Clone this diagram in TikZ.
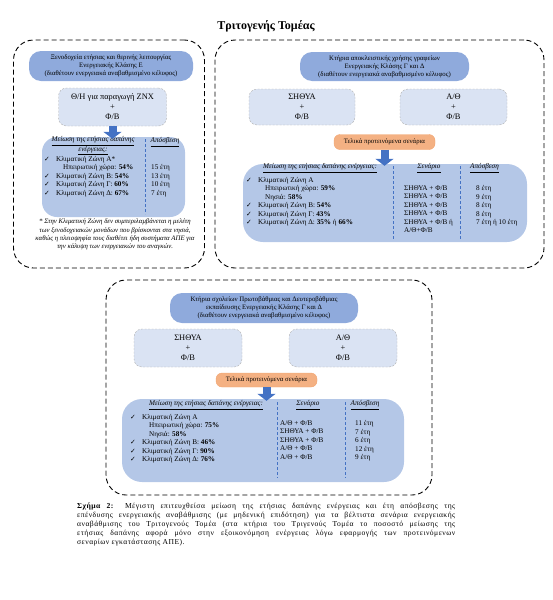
\documentclass[tikz,border=0pt]{standalone}
\usepackage{fontspec}
\setmainfont{Liberation Serif}
\newfontfamily\symfont{DejaVu Sans}
\newfontfamily\capfont[LetterSpace=6]{Liberation Serif}
\usetikzlibrary{arrows.meta,positioning}

\definecolor{headblue}{RGB}{143,170,220}
\definecolor{optblue}{RGB}{218,227,243}
\definecolor{resblue}{RGB}{180,199,231}
\definecolor{arrowblue}{RGB}{68,114,196}
\definecolor{finalfill}{RGB}{244,177,131}
\definecolor{finalline}{RGB}{237,125,49}

\newcommand{\ck}{\makebox[12pt][l]{\symfont\fontsize{6.8}{6.8}\selectfont ✓}}
\newcommand{\ind}{\hspace*{19pt}}
\newcommand{\ulit}[1]{\underline{\textit{#1}}}

\begin{document}
\begin{tikzpicture}
    [
      x=1pt, y=-1pt,
      panel/.style={draw, dashed, dash pattern=on 5pt off 3pt, line width=0.9pt, rounded corners=20pt},
      header/.style={fill=headblue, rounded corners=12pt, align=center, font=\fontsize{6.8}{8}\selectfont},
      option/.style={fill=optblue, draw=gray!60, dashed, dash pattern=on 2pt off 1.5pt, rounded corners=8pt, align=center, font=\fontsize{8.4}{10}\selectfont},
      final/.style={fill=finalfill, draw=finalline!70, rounded corners=6pt, font=\fontsize{6.8}{8}\selectfont},
      result/.style={fill=resblue, rounded corners=20pt},
      rows/.style={anchor=north west, inner sep=0pt, align=left, font=\fontsize{7.2}{8.5}\selectfont},
      colhead/.style={inner sep=0pt, align=center, font=\fontsize{7.2}{8}\selectfont},
      divider/.style={draw=arrowblue, dashed, dash pattern=on 3pt off 2pt, line width=0.6pt},
      post/.style={-{Triangle[width=18pt,length=7pt]}, line width=8pt, arrowblue, shorten >=-2pt}
    ]
    \useasboundingbox (0,0) rectangle (552,600);

    \node (title) [font=\fontsize{12}{14}\selectfont\bfseries] at (266,26) {Τριτογενής Τομέας};

    % hotels
    \node (hotelpanel) [panel, minimum width=191pt, minimum height=228pt] at (109,154) {};
    \node (hotelhead) [header, minimum width=164pt, minimum height=30pt] at (111,66)
      {Ξενοδοχεία ετήσιας και θερινής λειτουργίας\\Ενεργειακής Κλάσης Ε\\(διαθέτουν ενεργειακά αναβαθμισμένο κέλυφος)};
    \node (hotelopt) [option, minimum width=108pt, minimum height=38pt] at (112.5,107)
      {Θ/Η για παραγωγή ΖΝΧ\\+\\Φ/Β};
    \node (hotelres) [result, rounded corners=15pt, minimum width=143pt, minimum height=80pt] at (113.5,177) {};
    \node (hotelhd) [colhead] at (93,146) {\ulit{Μείωση της ετήσιας δαπάνης}\\\ulit{ενέργειας:}};
    \node (hotelpb) [colhead] at (165,142) {\ulit{Απόσβεση}};
    \node (hotelrows) [rows] at (44,156)
      {\ck Κλιματική Ζώνη Α*\\
       \ind Ηπειρωτική χώρα: \textbf{54\%}\\
       \ck Κλιματική Ζώνη Β: \textbf{54\%}\\
       \ck Κλιματική Ζώνη Γ: \textbf{60\%}\\
       \ck Κλιματική Ζώνη Δ: \textbf{67\%}};
    \node (hotelyears) [rows] at (151,164.5) {15 έτη\\13 έτη\\10 έτη\\7 έτη};
    \draw [divider] (145,139) -- (145,214);
    \node (hotelnote) [align=center, font=\fontsize{6.8}{8.3}\selectfont\itshape] at (115,234.5)
      {* Στην Κλιματική Ζώνη δεν συμπεριλαμβάνεται η μελέτη\\
       των ξενοδοχειακών μονάδων που βρίσκονται στα νησιά,\\
       καθώς η πλειοψηφία τους διαθέτει ήδη συστήματα ΑΠΕ για\\
       την κάλυψη των ενεργειακών του αναγκών.};

    % offices
    \node (officepanel) [panel, minimum width=329pt, minimum height=228pt] at (379.5,154) {};
    \node (officehead) [header, minimum width=169pt, minimum height=29pt] at (384.5,66.5)
      {Κτήρια αποκλειστικής χρήσης γραφείων\\Ενεργειακής Κλάσης Γ και Δ\\(διαθέτουν ενεργειακά αναβαθμισμένο κέλυφος)};
    \node (officeopta) [option, minimum width=106pt, minimum height=36pt] at (302,107) {ΣΗΘΥΑ\\+\\Φ/Β};
    \node (officeoptb) [option, minimum width=107pt, minimum height=36pt] at (453.5,107) {Α/Θ\\+\\Φ/Β};
    \node (officefinal) [final, minimum width=101pt, minimum height=15pt] at (384.5,142) {Τελικά προτεινόμενα σενάρια};
    \node (officeres) [result, minimum width=284pt, minimum height=78pt] at (385,203) {};
    \node (officehd) [colhead] at (320,168) {\ulit{Μείωση της ετήσιας δαπάνης ενέργειας:}};
    \node (officesc) [colhead] at (429,168) {\ulit{Σενάριο}};
    \node (officepb) [colhead] at (484.5,168) {\ulit{Απόσβεση}};
    \node (officerows) [rows] at (246,177)
      {\ck Κλιματική Ζώνη Α\\
       \ind Ηπειρωτική χώρα: \textbf{59\%}\\
       \ind Νησιά: \textbf{58\%}\\
       \ck Κλιματική Ζώνη Β: \textbf{54\%}\\
       \ck Κλιματική Ζώνη Γ: \textbf{43\%}\\
       \ck Κλιματική Ζώνη Δ: \textbf{35\%} ή \textbf{66\%}};
    \node (officescen) [rows] at (404,185.5)
      {ΣΗΘΥΑ + Φ/Β\\ΣΗΘΥΑ + Φ/Β\\ΣΗΘΥΑ + Φ/Β\\ΣΗΘΥΑ + Φ/Β\\ΣΗΘΥΑ + Φ/Β ή\\Α/Θ+Φ/Β};
    \node (officeyears) [rows] at (476,185.5) {8 έτη\\9 έτη\\8 έτη\\8 έτη\\7 έτη ή 10 έτη};
    \draw [divider] (393,166) -- (393,240);
    \draw [divider] (460,166) -- (460,240);

    % schools
    \node (schoolpanel) [panel, minimum width=326pt, minimum height=215pt] at (269,387.5) {};
    \node (schoolhead) [header, minimum width=188pt, minimum height=30pt] at (264,308)
      {Κτήρια σχολείων Πρωτοβάθμιας και Δευτεροβάθμιας\\εκπαίδευσης Ενεργειακής Κλάσης Γ και Δ\\(διαθέτουν ενεργειακά αναβαθμισμένο κέλυφος)};
    \node (schoolopta) [option, minimum width=108pt, minimum height=38pt] at (188,348) {ΣΗΘΥΑ\\+\\Φ/Β};
    \node (schooloptb) [option, minimum width=108pt, minimum height=38pt] at (343,348) {Α/Θ\\+\\Φ/Β};
    \node (schoolfinal) [final, minimum width=101pt, minimum height=14pt] at (266.5,380) {Τελικά προτεινόμενα σενάρια};
    \node (schoolres) [result, minimum width=282pt, minimum height=83pt] at (263,440.5) {};
    \node (schoolhd) [colhead] at (206,405) {\ulit{Μείωση της ετήσιας δαπάνης ενέργειας:}};
    \node (schoolsc) [colhead] at (308,405) {\ulit{Σενάριο}};
    \node (schoolpb) [colhead] at (365,405) {\ulit{Απόσβεση}};
    \node (schoolrows) [rows] at (130,414)
      {\ck Κλιματική Ζώνη Α\\
       \ind Ηπειρωτική χώρα: \textbf{75\%}\\
       \ind Νησιά: \textbf{58\%}\\
       \ck Κλιματική Ζώνη Β: \textbf{46\%}\\
       \ck Κλιματική Ζώνη Γ: \textbf{90\%}\\
       \ck Κλιματική Ζώνη Δ: \textbf{76\%}};
    \node (schoolscen) [rows] at (280,420.5)
      {Α/Θ + Φ/Β\\ΣΗΘΥΑ + Φ/Β\\ΣΗΘΥΑ + Φ/Β\\Α/Θ + Φ/Β\\Α/Θ + Φ/Β};
    \node (schoolyears) [rows] at (355,420.5) {11 έτη\\7 έτη\\6 έτη\\12 έτη\\9 έτη};
    \draw [divider] (277,402) -- (277,478);
    \draw [divider] (345,402) -- (345,478);

    % caption
    \node (caption) [rows, font=\fontsize{7.6}{8.8}\capfont] at (77,503)
      {\makebox[378pt][s]{\textbf{Σχήμα 2:} Μέγιστη επιτευχθείσα μείωση της ετήσιας δαπάνης ενέργειας και έτη απόσβεσης της}\\
       \makebox[378pt][s]{επένδυσης ενεργειακής αναβάθμισης (με μηδενική επιδότηση) για τα βέλτιστα σενάρια ενεργειακής}\\
       \makebox[378pt][s]{αναβάθμισης του Τριτογενούς Τομέα (στα κτήρια του Τριγενούς Τομέα το ποσοστό μείωσης της}\\
       \makebox[378pt][s]{ετήσιας δαπάνης αφορά μόνο στην εξοικονόμηση ενέργειας λόγω εφαρμογής των προτεινόμενων}\\
       σεναρίων εγκατάστασης ΑΠΕ).};

    \path
    (hotelopt.south) edge [post] (hotelopt.south |- hotelres.north)
    (officefinal.south) edge [post] (officefinal.south |- officeres.north)
    (schoolfinal.south) edge [post] (schoolfinal.south |- schoolres.north)
    ;

\end{tikzpicture}
\end{document}
